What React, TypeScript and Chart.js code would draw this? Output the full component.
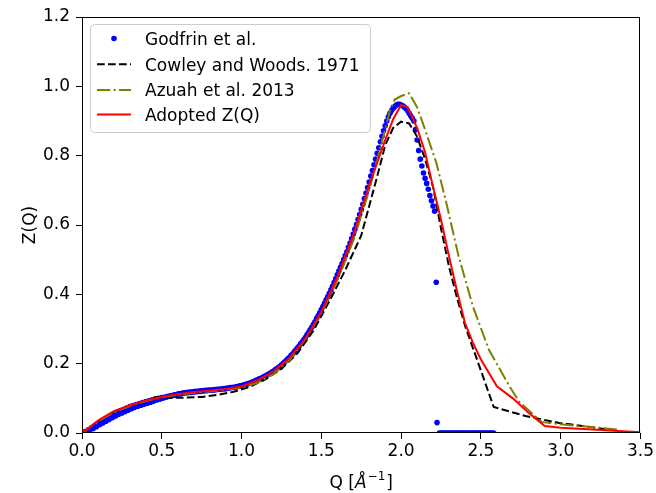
import React, { useEffect, useRef } from "react";
import { Chart, registerables } from "chart.js";

Chart.register(...registerables);

const FONT = '"DejaVu Sans", "Liberation Sans", sans-serif';

// Godfrin et al. (scatter) — even-hundredth samples
const godfrinQ = [
  0.0, 0.02, 0.04, 0.06, 0.08, 0.1, 0.12, 0.14, 0.16, 0.18,
  0.2, 0.22, 0.24, 0.26, 0.28, 0.3, 0.32, 0.34, 0.36, 0.38,
  0.4, 0.42, 0.44, 0.46, 0.48, 0.5, 0.52, 0.54, 0.56, 0.58,
  0.6, 0.62, 0.64, 0.66, 0.68, 0.7, 0.72, 0.74, 0.76, 0.78,
  0.8, 0.82, 0.84, 0.86, 0.88, 0.9, 0.92, 0.94, 0.96, 0.98,
  1.0, 1.02, 1.04, 1.06, 1.08, 1.1, 1.12, 1.14, 1.16, 1.18,
  1.2, 1.22, 1.24, 1.26, 1.28, 1.3, 1.32, 1.34, 1.36, 1.38,
  1.4, 1.42, 1.44, 1.46, 1.48, 1.5, 1.52, 1.54, 1.56, 1.58,
  1.6, 1.62, 1.64, 1.66, 1.68, 1.7, 1.72, 1.74, 1.76, 1.78,
  1.8, 1.82, 1.84, 1.86, 1.88, 1.9, 1.92, 1.94, 1.96, 1.98,
  2.0, 2.02, 2.04, 2.06, 2.08, 2.1, 2.12, 2.14, 2.16, 2.18,
  2.2, 2.21, 2.22, 2.225,
  2.24, 2.26, 2.28, 2.3, 2.32, 2.34, 2.36, 2.38, 2.4, 2.42,
  2.44, 2.46, 2.48, 2.5, 2.52, 2.54, 2.56, 2.58,
];
const godfrinZ = [
  0.0, 0.004, 0.009, 0.015, 0.021, 0.027, 0.033, 0.039, 0.044, 0.05,
  0.055, 0.06, 0.064, 0.068, 0.072, 0.076, 0.079, 0.082, 0.085, 0.088,
  0.091, 0.093, 0.096, 0.098, 0.1, 0.102, 0.104, 0.106, 0.108, 0.11,
  0.112, 0.113, 0.115, 0.116, 0.117, 0.118, 0.119, 0.12, 0.121, 0.122,
  0.123, 0.124, 0.125, 0.126, 0.127, 0.128, 0.129, 0.131, 0.132, 0.134,
  0.136, 0.139, 0.142, 0.145, 0.149, 0.153, 0.157, 0.162, 0.167, 0.172,
  0.178, 0.185, 0.192, 0.2, 0.209, 0.218, 0.228, 0.239, 0.25, 0.262,
  0.275, 0.29, 0.305, 0.321, 0.338, 0.356, 0.374, 0.393, 0.413, 0.434,
  0.456, 0.478, 0.5, 0.523, 0.548, 0.574, 0.601, 0.63, 0.66, 0.692,
  0.724, 0.757, 0.79, 0.823, 0.856, 0.886, 0.912, 0.93, 0.942, 0.948,
  0.946, 0.94, 0.93, 0.915, 0.9, 0.845, 0.79, 0.75, 0.72, 0.685,
  0.655, 0.64, 0.435, 0.03,
  0.0, 0.0, 0.0, 0.0, 0.0, 0.0, 0.0, 0.0, 0.0, 0.0,
  0.0, 0.0, 0.0, 0.0, 0.0, 0.0, 0.0, 0.0,
];

// Godfrin et al. — odd-hundredth samples (second measurement run)
const godfrinQ2 = [
  0.01, 0.03, 0.05, 0.07, 0.09, 0.11, 0.13, 0.15, 0.17, 0.19,
  0.21, 0.23, 0.25, 0.27, 0.29, 0.31, 0.33, 0.35, 0.37, 0.39,
  0.41, 0.43, 0.45, 0.47, 0.49, 0.51, 0.53, 0.55, 0.57, 0.59,
  0.61, 0.63, 0.65, 0.67, 0.69, 0.71, 0.73, 0.75, 0.77, 0.79,
  0.81, 0.83, 0.85, 0.87, 0.89, 0.91, 0.93, 0.95, 0.97, 0.99,
  1.01, 1.03, 1.05, 1.07, 1.09, 1.11, 1.13, 1.15, 1.17, 1.19,
  1.21, 1.23, 1.25, 1.27, 1.29, 1.31, 1.33, 1.35, 1.37, 1.39,
  1.41, 1.43, 1.45, 1.47, 1.49, 1.51, 1.53, 1.55, 1.57, 1.59,
  1.61, 1.63, 1.65, 1.67, 1.69, 1.71, 1.73, 1.75, 1.77, 1.79,
  1.81, 1.83, 1.85, 1.87, 1.89, 1.91, 1.93, 1.95, 1.97, 1.99,
  2.01, 2.03, 2.05, 2.07, 2.09, 2.11, 2.13, 2.15, 2.17, 2.19,
  2.25, 2.27, 2.29, 2.31, 2.33, 2.35, 2.37, 2.39, 2.41, 2.43,
  2.45, 2.47, 2.49, 2.51, 2.53, 2.55, 2.57,
];
const godfrinZ2 = [
  0.0, 0.003, 0.008, 0.013, 0.018, 0.024, 0.029, 0.034, 0.039, 0.044,
  0.049, 0.054, 0.058, 0.062, 0.066, 0.07, 0.074, 0.077, 0.08, 0.083,
  0.086, 0.089, 0.092, 0.095, 0.098, 0.101, 0.104, 0.106, 0.108, 0.11,
  0.113, 0.115, 0.117, 0.118, 0.119, 0.12, 0.121, 0.122, 0.123, 0.124,
  0.124, 0.125, 0.126, 0.127, 0.128, 0.13, 0.131, 0.132, 0.134, 0.136,
  0.138, 0.141, 0.144, 0.148, 0.152, 0.156, 0.16, 0.165, 0.17, 0.176,
  0.182, 0.189, 0.197, 0.205, 0.214, 0.224, 0.234, 0.245, 0.257, 0.269,
  0.283, 0.298, 0.313, 0.33, 0.347, 0.365, 0.384, 0.403, 0.423, 0.445,
  0.467, 0.489, 0.512, 0.536, 0.561, 0.588, 0.616, 0.645, 0.676, 0.708,
  0.741, 0.774, 0.807, 0.84, 0.872, 0.9, 0.922, 0.937, 0.946, 0.948,
  0.944, 0.936, 0.922, 0.908, 0.875, 0.815, 0.77, 0.735, 0.703, 0.67,
  0.0, 0.0, 0.0, 0.0, 0.0, 0.0, 0.0, 0.0, 0.0, 0.0,
  0.0, 0.0, 0.0, 0.0, 0.0, 0.0, 0.0,
];

// Cowley and Woods 1971
const cowleyQ = [
  0.45, 0.55, 0.65, 0.75, 0.85, 0.95, 1.05, 1.15, 1.25, 1.35,
  1.45, 1.55, 1.65, 1.75, 1.85, 1.9, 1.95, 2.0, 2.05, 2.1,
  2.15, 2.2, 2.25, 2.3, 2.35, 2.4, 2.45, 2.5, 2.58, 2.78,
  2.99, 3.32,
];
const cowleyZ = [
  0.103, 0.102, 0.102, 0.104, 0.11, 0.119, 0.133, 0.155, 0.185, 0.23,
  0.295, 0.38, 0.47, 0.57, 0.74, 0.83, 0.88, 0.898, 0.893, 0.855,
  0.79, 0.71, 0.59, 0.48, 0.39, 0.31, 0.245, 0.18, 0.075, 0.049,
  0.029, 0.009,
];

// Azuah et al. 2013
const azuahQ = [
  0.0, 0.1, 0.2, 0.3, 0.4, 0.5, 0.6, 0.7, 0.8, 0.9,
  1.0, 1.1, 1.2, 1.3, 1.4, 1.5, 1.6, 1.7, 1.8, 1.88,
  1.93, 1.96, 2.0, 2.05, 2.1, 2.15, 2.22, 2.28, 2.36, 2.45,
  2.55, 2.68, 2.74, 2.88, 3.0, 3.2, 3.36,
];
const azuahZ = [
  0.0, 0.033, 0.06, 0.078, 0.092, 0.103, 0.11, 0.116, 0.12, 0.125,
  0.131, 0.145, 0.17, 0.21, 0.27, 0.345, 0.44, 0.555, 0.7, 0.84,
  0.93, 0.962, 0.972, 0.98, 0.94, 0.875, 0.78, 0.67, 0.51, 0.365,
  0.24, 0.134, 0.09, 0.032, 0.025, 0.017, 0.01,
];

// Adopted Z(Q)
const adoptedQ = [
  0.0, 0.1, 0.2, 0.3, 0.4, 0.5, 0.6, 0.7, 0.8, 0.9,
  1.0, 1.1, 1.2, 1.3, 1.4, 1.5, 1.6, 1.7, 1.8, 1.9,
  1.95, 2.0, 2.04, 2.1, 2.15, 2.2, 2.25, 2.3, 2.35, 2.4,
  2.45, 2.5, 2.6, 2.7, 2.8, 2.9, 3.0, 3.2, 3.5,
];
const adoptedZ = [
  0.0, 0.036, 0.063, 0.08, 0.094, 0.104, 0.112, 0.118, 0.122, 0.127,
  0.134, 0.152, 0.178, 0.216, 0.272, 0.35, 0.45, 0.57, 0.715, 0.845,
  0.905, 0.946, 0.94, 0.88, 0.81, 0.71, 0.615, 0.51, 0.41, 0.318,
  0.26, 0.212, 0.135, 0.1, 0.058, 0.02, 0.015, 0.01, 0.002,
];

const xTicks = [0, 0.5, 1.0, 1.5, 2.0, 2.5, 3.0, 3.5];
const yTicks = [0, 0.2, 0.4, 0.6, 0.8, 1.0, 1.2];

const legendLabels = ["Godfrin et al.", "Cowley and Woods. 1971", "Azuah et al. 2013", "Adopted Z(Q)"];
const xLabel = "Q [";
const yLabel = "Z(Q)";

const toXY = (xs: number[], ys: number[]) => xs.map((x, i) => ({ x, y: ys[i] }));

const decorPlugin = {
  id: "decor",
  afterDraw(chart: any) {
    const { ctx, chartArea: a } = chart;
    ctx.save();
    // frame
    const l = Math.round(a.left) + 0.5;
    const t = Math.round(a.top) + 0.5;
    const r = Math.round(a.right) - 0.5;
    const b = Math.round(a.bottom) - 0.5;
    ctx.strokeStyle = "#000";
    ctx.lineWidth = 1;
    ctx.setLineDash([]);
    ctx.strokeRect(l, t, r - l, b - t);

    // legend
    const lx = 90.5, ly = 24.5, lw = 280, lh = 108, rad = 4;
    ctx.beginPath();
    ctx.moveTo(lx + rad, ly);
    ctx.lineTo(lx + lw - rad, ly);
    ctx.quadraticCurveTo(lx + lw, ly, lx + lw, ly + rad);
    ctx.lineTo(lx + lw, ly + lh - rad);
    ctx.quadraticCurveTo(lx + lw, ly + lh, lx + lw - rad, ly + lh);
    ctx.lineTo(lx + rad, ly + lh);
    ctx.quadraticCurveTo(lx, ly + lh, lx, ly + lh - rad);
    ctx.lineTo(lx, ly + rad);
    ctx.quadraticCurveTo(lx, ly, lx + rad, ly);
    ctx.closePath();
    ctx.fillStyle = "rgba(255,255,255,0.8)";
    ctx.fill();
    ctx.strokeStyle = "rgba(204,204,204,1)";
    ctx.stroke();

    const rows = [38.5, 64.3, 90, 114.5];
    const hx0 = 97, hx1 = 131;
    ctx.fillStyle = "#0000ff";
    ctx.beginPath();
    ctx.arc(114, rows[0], 2.8, 0, Math.PI * 2);
    ctx.fill();
    ctx.lineWidth = 2;
    ctx.strokeStyle = "#000000";
    ctx.setLineDash([7.7, 3.3]);
    ctx.beginPath();
    ctx.moveTo(hx0, rows[1]);
    ctx.lineTo(hx1, rows[1]);
    ctx.stroke();
    ctx.strokeStyle = "#808000";
    ctx.setLineDash([13.3, 3.3, 2.1, 3.3]);
    ctx.beginPath();
    ctx.moveTo(hx0, rows[2]);
    ctx.lineTo(hx1, rows[2]);
    ctx.stroke();
    ctx.strokeStyle = "#ff0000";
    ctx.setLineDash([]);
    ctx.beginPath();
    ctx.moveTo(hx0, rows[3]);
    ctx.lineTo(hx1, rows[3]);
    ctx.stroke();

    ctx.fillStyle = "#000";
    ctx.font = `17px ${FONT}`;
    ctx.textAlign = "left";
    ctx.textBaseline = "alphabetic";
    legendLabels.forEach((s, i) => {
      ctx.fillText(s, 145, rows[i] + 6.2);
    });

    // y label
    ctx.save();
    ctx.translate(31, (a.top + a.bottom) / 2);
    ctx.rotate(-Math.PI / 2);
    ctx.textAlign = "center";
    ctx.textBaseline = "middle";
    ctx.font = `17px ${FONT}`;
    ctx.fillText(yLabel, 0, 0);
    ctx.restore();

    // x label: Q [Å^-1]
    const base = 488;
    const part1 = xLabel;
    const part2 = "Å";
    const part3 = "\u22121";
    const part4 = "]";
    ctx.textBaseline = "alphabetic";
    ctx.textAlign = "left";
    ctx.font = `17px ${FONT}`;
    const w1 = ctx.measureText(part1).width;
    ctx.font = `italic 17px ${FONT}`;
    const w2 = ctx.measureText(part2).width;
    ctx.font = `12px ${FONT}`;
    const w3 = ctx.measureText(part3).width;
    ctx.font = `17px ${FONT}`;
    const w4 = ctx.measureText(part4).width;
    const total = w1 + w2 + 1 + w3 + 1 + w4;
    let x = (a.left + a.right) / 2 - total / 2;
    ctx.font = `17px ${FONT}`;
    ctx.fillText(part1, x, base);
    x += w1;
    ctx.font = `italic 17px ${FONT}`;
    ctx.fillText(part2, x, base);
    x += w2 + 1;
    ctx.font = `12px ${FONT}`;
    ctx.fillText(part3, x, base - 8);
    x += w3 + 1;
    ctx.font = `17px ${FONT}`;
    ctx.fillText(part4, x, base);

    ctx.restore();
  },
};

export default function App() {
  const ref = useRef<HTMLCanvasElement | null>(null);

  useEffect(() => {
    document.body.style.margin = "0";
    const canvas = ref.current;
    if (!canvas) return;
    const tickFont = { family: FONT, size: 17 };
    const godfrinData = toXY(godfrinQ, godfrinZ).concat(toXY(godfrinQ2, godfrinZ2));
    const chart = new Chart(canvas, {
      type: "scatter",
      data: {
        datasets: [
          {
            label: legendLabels[3],
            data: toXY(adoptedQ, adoptedZ),
            showLine: true,
            borderColor: "#ff0000",
            borderWidth: 2,
            pointRadius: 0,
            tension: 0,
            order: 1,
          },
          {
            label: legendLabels[2],
            data: toXY(azuahQ, azuahZ),
            showLine: true,
            borderColor: "#808000",
            borderWidth: 2,
            borderDash: [13.3, 3.3, 2.1, 3.3],
            pointRadius: 0,
            tension: 0,
            order: 2,
          },
          {
            label: legendLabels[1],
            data: toXY(cowleyQ, cowleyZ),
            showLine: true,
            borderColor: "#000000",
            borderWidth: 2,
            borderDash: [7.7, 3.3],
            pointRadius: 0,
            tension: 0,
            order: 3,
          },
          {
            label: legendLabels[0],
            data: godfrinData,
            showLine: false,
            backgroundColor: "#0000ff",
            borderColor: "#0000ff",
            pointBackgroundColor: "#0000ff",
            pointBorderWidth: 0,
            pointRadius: 2.8,
            order: 4,
          },
        ],
      },
      options: {
        animation: false,
        responsive: false,
        devicePixelRatio: 1,
        clip: 0 as any,
        layout: { padding: { top: 17, right: 15, left: 0, bottom: 0 } },
        plugins: {
          legend: { display: false },
          tooltip: { enabled: false },
          title: { display: false },
        },
        scales: {
          x: {
            type: "linear",
            min: 0,
            max: 3.5,
            afterFit: (s: any) => {
              s.height = 60;
            },
            afterBuildTicks: (s: any) => {
              s.ticks = xTicks.map((v) => ({ value: v }));
            },
            ticks: {
              color: "#000",
              font: tickFont,
              padding: 2,
              maxRotation: 0,
              autoSkip: false,
              callback: (v: any) => Number(v).toFixed(1),
            },
            grid: {
              drawOnChartArea: false,
              drawTicks: true,
              tickLength: 6,
              tickColor: "#000",
              color: "#000",
            },
            border: { display: false },
          },
          y: {
            type: "linear",
            min: 0,
            max: 1.2,
            afterFit: (s: any) => {
              s.width = 82;
            },
            afterBuildTicks: (s: any) => {
              s.ticks = yTicks.map((v) => ({ value: v }));
            },
            ticks: {
              color: "#000",
              font: tickFont,
              padding: 6,
              autoSkip: false,
              callback: (v: any) => Number(v).toFixed(1),
            },
            grid: {
              drawOnChartArea: false,
              drawTicks: true,
              tickLength: 6,
              tickColor: "#000",
              color: "#000",
            },
            border: { display: false },
          },
        },
      },
      plugins: [decorPlugin],
    });
    return () => chart.destroy();
  }, []);

  return (
    <div style={{ width: 656, height: 493, background: "#fff" }}>
      <canvas ref={ref} width={656} height={493} style={{ display: "block" }} />
    </div>
  );
}
